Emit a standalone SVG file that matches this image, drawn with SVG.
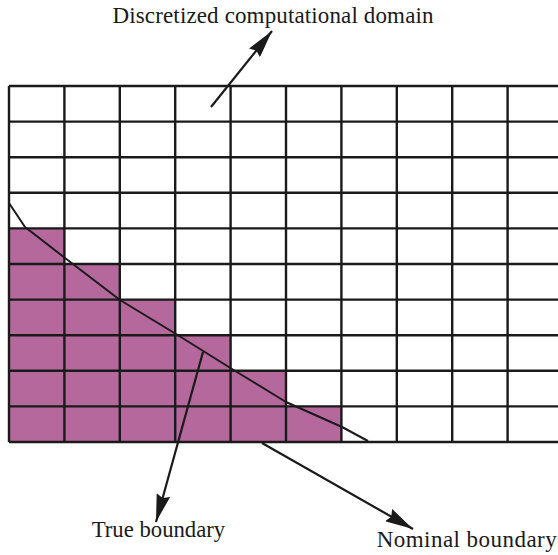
<svg xmlns="http://www.w3.org/2000/svg" width="558" height="555" viewBox="0 0 558 555">
  <style>
    .grid { stroke: #1a1a1a; stroke-width: 2.4; fill: none; }
    .cells { fill: #b5689c; stroke: none; }
    .curve { stroke: #1a1a1a; stroke-width: 2; fill: none; stroke-linejoin: round; }
    .arrow { stroke: #1a1a1a; stroke-width: 2.2; fill: none; marker-end: url(#head); }
    .label { font-family: "Liberation Serif", "Times New Roman", serif; font-size: 23px; fill: #1a1a1a; }
  </style>
  <defs>
    <marker id="head" viewBox="0 0 28 14" refX="28" refY="7" markerWidth="28" markerHeight="14" markerUnits="userSpaceOnUse" orient="auto">
      <path d="M0,0 L28,7 L0,14 L3,7 z" fill="#1a1a1a"/>
    </marker>
  </defs>
  <rect width="558" height="555" fill="#ffffff"/>

  <g id="boundary-cells">
    <path class="cells" d="M9,228.4 H64.4 V264 H119.8 V299.6 H175.2 V335.2 H230.6 V370.8 H286 V406.4 H341.4 V442 H9 Z"/>
  </g>

  <g id="grid" class="grid">
    <path d="M9,86 H558 M9,121.6 H558 M9,157.2 H558 M9,192.8 H558 M9,228.4 H558 M9,264 H558 M9,299.6 H558 M9,335.2 H558 M9,370.8 H558 M9,406.4 H558 M9,442 H558"/>
    <path d="M9,86 V442 M64.4,86 V442 M119.8,86 V442 M175.2,86 V442 M230.6,86 V442 M286,86 V442 M341.4,86 V442 M396.8,86 V442 M452.2,86 V442 M507.6,86 V442"/>
  </g>

  <g id="true-boundary">
    <path class="curve" d="M9,203 L25,227 L65,258 L120,300 L176,334 L232,369 L286,402 L342,427 L368,441"/>
  </g>

  <g id="connectors">
    <path class="arrow" d="M211,107 L272,31"/>
    <path class="arrow" d="M203,352 L156,522"/>
    <path class="arrow" d="M262,443 L413,529"/>
  </g>

  <g id="label-domain">
    <text class="label" x="112.5" y="22.5" textLength="321" lengthAdjust="spacing">Discretized computational domain</text>
  </g>
  <g id="label-true">
    <text class="label" x="91.7" y="537" textLength="133.5" lengthAdjust="spacingAndGlyphs">True boundary</text>
  </g>
  <g id="label-nominal">
    <text class="label" x="376.7" y="547" textLength="180" lengthAdjust="spacing">Nominal boundary</text>
  </g>
</svg>
